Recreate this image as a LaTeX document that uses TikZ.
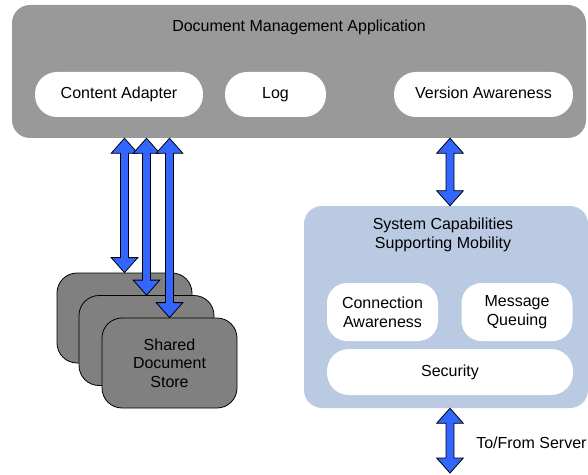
\documentclass[tikz,border=0pt]{standalone}
\usepackage{fontspec}
\setmainfont{Liberation Sans}
\usetikzlibrary{calc}

\definecolor{appgray}{HTML}{999999}
\definecolor{storegray}{HTML}{808080}
\definecolor{capblue}{HTML}{B9CAE2}
\definecolor{arrblue}{HTML}{3366FF}

% vertical block arrow with two heads, from #1 (top) to #2 (bottom)
\newcommand{\blockarrow}[2]{%
  \draw[blk] let \p1 = (#1), \p2 = (#2) in
    (\x1,\y1) -- ({\x1+10pt},{\y1-11.25pt}) -- ({\x1+3pt},{\y1-11.25pt})
    -- ({\x1+3pt},{\y2+11.25pt}) -- ({\x1+10pt},{\y2+11.25pt}) -- (\x1,\y2)
    -- ({\x1-10pt},{\y2+11.25pt}) -- ({\x1-3pt},{\y2+11.25pt})
    -- ({\x1-3pt},{\y1-11.25pt}) -- ({\x1-10pt},{\y1-11.25pt}) -- cycle;}

\begin{document}
\begin{tikzpicture}[x=0.75pt, y=-0.75pt, font=\fontsize{12}{14}\selectfont,
    app/.style = {fill=appgray, rounded corners=13.5pt, minimum width=430.5pt, minimum height=99.75pt},
    caps/.style = {fill=capblue, rounded corners=13.5pt, minimum width=213pt, minimum height=151.5pt},
    pill/.style = {fill=white, rounded corners=16.5pt, minimum height=33.75pt, inner sep=0pt, text height=8.8pt, text depth=2.6pt},
    feat/.style = {fill=white, rounded corners=15pt, minimum width=83.25pt, minimum height=43.5pt, inner sep=0pt, align=center},
    store/.style = {draw, line width=0.6pt, fill=storegray, rounded corners=15pt, minimum width=101.25pt, minimum height=67.5pt, align=center},
    blk/.style = {draw, line width=0.6pt, fill=arrblue, line join=miter}]
    \useasboundingbox (0,0) rectangle (588,474);

    % application
    \node[app] (app) at (299,71.5) {};
    \node (apptitle) at (299,27) {Document Management Application};
    \node[pill, minimum width=126pt] (adapter) at (119,94.5) {Content Adapter};
    \node[pill, minimum width=75.75pt] (log) at (275.5,94.5) {Log};
    \node[pill, minimum width=134.25pt] (version) at (483.5,94.5) {Version Awareness};

    % mobility
    \node[caps] (caps) at (446,307) {};
    \node[align=center] (capstitle) at (443,235) {System Capabilities\\Supporting Mobility};
    \node[feat] (conn) at (382.5,312) {Connection\\Awareness};
    \node[feat] (queue) at (517,312) {Message\\Queuing};
    \node[pill, minimum width=184.5pt, minimum height=34.5pt] (security) at (450,372) {Security};

    % store
    \node[store] (store1) at (124.5,318) {};
    \node[store] (store2) at (146.5,340.5) {};
    \node[store] (store3) at (169.5,363) {Shared\\Document\\Store};

    \coordinate (server) at (450,473);
    \node[anchor=west, inner sep=0pt] (tofrom) at (476,443) {To/From Server};

    \blockarrow{store1.north |- app.south}{store1.north}
    \blockarrow{store2.north |- app.south}{store2.north}
    \blockarrow{store3.north |- app.south}{store3.north}
    \blockarrow{security.north |- app.south}{security.north |- caps.north}
    \blockarrow{security.south |- caps.south}{server}
\end{tikzpicture}
\end{document}
